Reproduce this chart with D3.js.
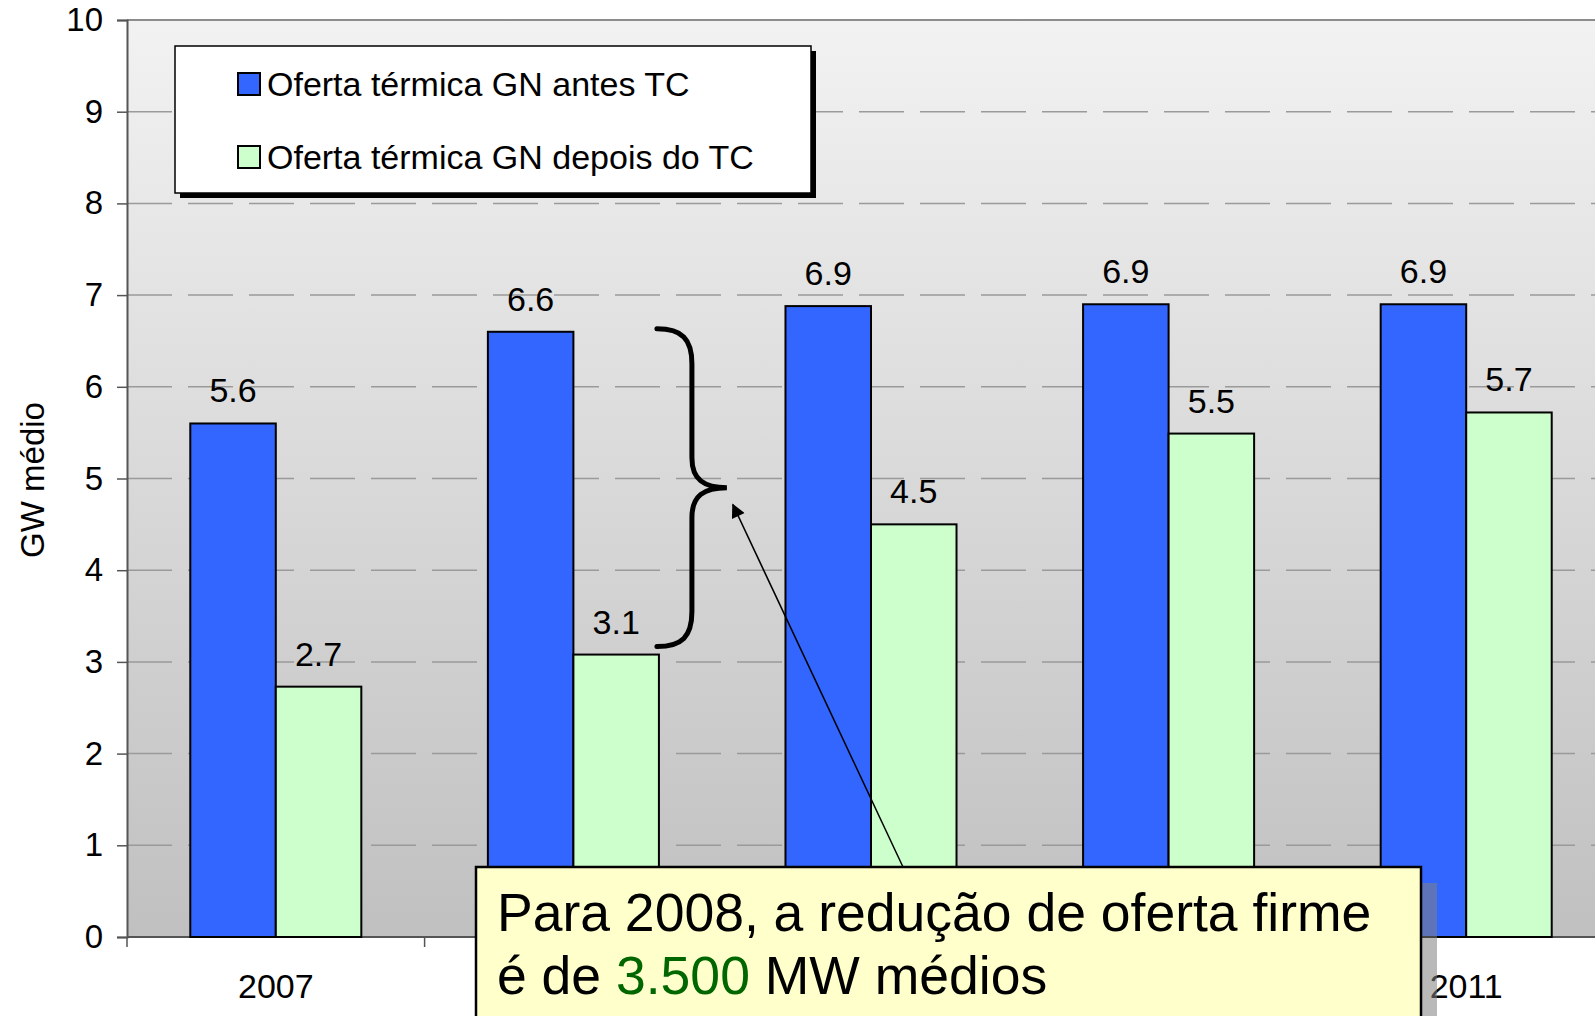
<!DOCTYPE html>
<html lang="pt">
<head>
<meta charset="utf-8">
<title>Oferta térmica GN</title>
<script src="https://cdnjs.cloudflare.com/ajax/libs/d3/7.8.5/d3.min.js"></script>
<style>
  body { margin: 0; background: #fff; }
  svg { display: block; font-family: "Liberation Sans", Arial, sans-serif; }
</style>
</head>
<body>
<svg id="chart" width="1595" height="1016"></svg>
<script>
// dados
var years = ["2007", "2008", "2009", "2010", "2011"];
var seriesNames = ["Oferta térmica GN antes TC", "Oferta térmica GN depois do TC"];
var antesTC = [5.6, 6.6, 6.88, 6.9, 6.9];
var depoisTC = [2.73, 3.08, 4.5, 5.49, 5.72];
var yTicks = [0, 1, 2, 3, 4, 5, 6, 7, 8, 9, 10];
var colors = ["#3366ff", "#ccffcc"];

var svg = d3.select("#chart");
var W = 1595, H = 1016;

var y = d3.scaleLinear().domain([0, 10]).range([937, 20]);
var x = d3.scaleBand().domain(years).range([127, 127 + 5 * 297.6]);
var x1 = d3.scaleBand().domain([0, 1]).range([0, x.bandwidth()]).paddingOuter(0.74);

// fundo com gradiente
var defs = svg.append("defs");
var grad = defs.append("linearGradient").attr("id", "bg").attr("x1", 0).attr("y1", 0).attr("x2", 0).attr("y2", 1);
grad.append("stop").attr("offset", "0%").attr("stop-color", "#f2f2f2");
grad.append("stop").attr("offset", "100%").attr("stop-color", "#c0c0c0");

svg.append("rect")
  .attr("x", 127).attr("y", y(10))
  .attr("width", W - 127).attr("height", y(0) - y(10))
  .attr("fill", "url(#bg)");

// grade
svg.append("g").selectAll("line")
  .data(yTicks.filter(function(d) { return d > 0 && d < 10; }))
  .enter().append("line")
  .attr("x1", 127).attr("x2", W)
  .attr("y1", function(d) { return y(d); }).attr("y2", function(d) { return y(d); })
  .attr("stroke", "#9a9a9a").attr("stroke-width", 1.5)
  .attr("stroke-dasharray", "45,16");

svg.append("line")
  .attr("x1", 127).attr("x2", W).attr("y1", y(10)).attr("y2", y(10))
  .attr("stroke", "#8c8c8c").attr("stroke-width", 2);

// eixos
var yAxis = svg.append("g").attr("transform", "translate(127,0)")
  .call(d3.axisLeft(y).tickValues(yTicks).tickSize(10).tickPadding(14).tickFormat(d3.format("d")));
yAxis.select(".domain").attr("stroke", "#555").attr("stroke-width", 2);
yAxis.selectAll(".tick line").attr("stroke", "#555").attr("stroke-width", 1.5);
yAxis.selectAll("text").attr("font-size", 33).attr("fill", "#000")
  .attr("font-family", "Liberation Sans, Arial, sans-serif");

var xAxis = svg.append("g");
xAxis.append("line").attr("x1", 127).attr("x2", W).attr("y1", y(0)).attr("y2", y(0))
  .attr("stroke", "#555").attr("stroke-width", 2);
xAxis.selectAll(".xt").data(years.concat(["end"])).enter().append("line")
  .attr("x1", function(d, i) { return x.range()[0] + i * x.step(); })
  .attr("x2", function(d, i) { return x.range()[0] + i * x.step(); })
  .attr("y1", y(0)).attr("y2", y(0) + 10)
  .attr("stroke", "#555").attr("stroke-width", 1.5);
xAxis.selectAll(".xl").data(years).enter().append("text")
  .attr("x", function(d) { return x(d) + x.bandwidth() / 2; })
  .attr("y", 998)
  .attr("text-anchor", "middle").attr("font-size", 34)
  .text(function(d) { return d; });

// barras
var groups = svg.append("g").selectAll("g").data(years).enter().append("g")
  .attr("transform", function(d) { return "translate(" + x(d) + ",0)"; });

groups.selectAll("rect")
  .data(function(d, i) { return [antesTC[i], depoisTC[i]]; })
  .enter().append("rect")
  .attr("x", function(d, j) { return x1(j); })
  .attr("y", function(d) { return y(d); })
  .attr("width", x1.bandwidth())
  .attr("height", function(d) { return y(0) - y(d); })
  .attr("fill", function(d, j) { return colors[j]; })
  .attr("stroke", "#000").attr("stroke-width", 2);

groups.selectAll("text")
  .data(function(d, i) { return [antesTC[i], depoisTC[i]]; })
  .enter().append("text")
  .attr("x", function(d, j) { return x1(j) + x1.bandwidth() / 2; })
  .attr("y", function(d) { return y(d) - 21; })
  .attr("text-anchor", "middle").attr("font-size", 34)
  .text(function(d) { return d3.format(".1f")(d); });

// titulo do eixo
svg.append("text")
  .attr("transform", "translate(44,480) rotate(-90)")
  .attr("text-anchor", "middle").attr("font-size", 33)
  .text("GW médio");

// legenda
var leg = svg.append("g");
leg.append("rect").attr("x", 180).attr("y", 51).attr("width", 636).attr("height", 147).attr("fill", "#000");
leg.append("rect").attr("x", 175).attr("y", 46).attr("width", 636).attr("height", 147)
  .attr("fill", "#fff").attr("stroke", "#000").attr("stroke-width", 1.5);
var li = leg.selectAll(".li").data(seriesNames).enter().append("g")
  .attr("transform", function(d, i) { return "translate(238," + (73 + i * 73) + ")"; });
li.append("rect").attr("width", 22).attr("height", 22)
  .attr("fill", function(d, i) { return colors[i]; })
  .attr("stroke", "#000").attr("stroke-width", 2);
li.append("text").attr("x", 29).attr("y", 23).attr("font-size", 34)
  .text(function(d) { return d; });

// chave sobre 2008
var bx = x("2008") + x1(1) + x1.bandwidth();
var bTop = y(antesTC[1]) - 3, bBot = y(depoisTC[1]) - 8, bMid = (bTop + bBot) / 2;
var b0 = bx - 2, b1 = bx + 33, b2 = bx + 68;
svg.append("path")
  .attr("d", "M" + b0 + "," + bTop +
    " C" + (b0 + 25) + "," + bTop + " " + b1 + "," + (bTop + 10) + " " + b1 + "," + (bTop + 35) +
    " L" + b1 + "," + (bMid - 30) +
    " C" + b1 + "," + (bMid - 8) + " " + (b1 + 12) + "," + bMid + " " + b2 + "," + bMid +
    " C" + (b1 + 12) + "," + bMid + " " + b1 + "," + (bMid + 8) + " " + b1 + "," + (bMid + 30) +
    " L" + b1 + "," + (bBot - 35) +
    " C" + b1 + "," + (bBot - 10) + " " + (b0 + 25) + "," + bBot + " " + b0 + "," + bBot)
  .attr("fill", "none").attr("stroke", "#000").attr("stroke-width", 5).attr("stroke-linecap", "round");

// seta
defs.append("marker").attr("id", "arr").attr("viewBox", "0 0 10 10")
  .attr("refX", 9).attr("refY", 5).attr("markerWidth", 18).attr("markerHeight", 14)
  .attr("markerUnits", "userSpaceOnUse").attr("orient", "auto")
  .append("path").attr("d", "M0,0 L10,5 L0,10 z").attr("fill", "#000");
svg.append("line")
  .attr("x1", 903).attr("y1", 867).attr("x2", b2 + 6).attr("y2", bMid + 17)
  .attr("stroke", "#000").attr("stroke-width", 1.5).attr("marker-end", "url(#arr)");

// caixa de texto
svg.append("rect").attr("x", 492).attr("y", 883).attr("width", 945).attr("height", 160)
  .attr("fill", "#808080").attr("opacity", 0.55);
svg.append("rect").attr("x", 476).attr("y", 867).attr("width", 945).attr("height", 160)
  .attr("fill", "#ffffcc").attr("stroke", "#000").attr("stroke-width", 2.5);
var ct = svg.append("g").attr("font-size", 53.5);
ct.append("text").attr("x", 497).attr("y", 931).text("Para 2008, a redução de oferta firme");
var t2 = ct.append("text").attr("x", 497).attr("y", 994);
t2.append("tspan").text("é de ");
t2.append("tspan").attr("fill", "#006600").text("3.500");
t2.append("tspan").text(" MW médios");
</script>
</body>
</html>
